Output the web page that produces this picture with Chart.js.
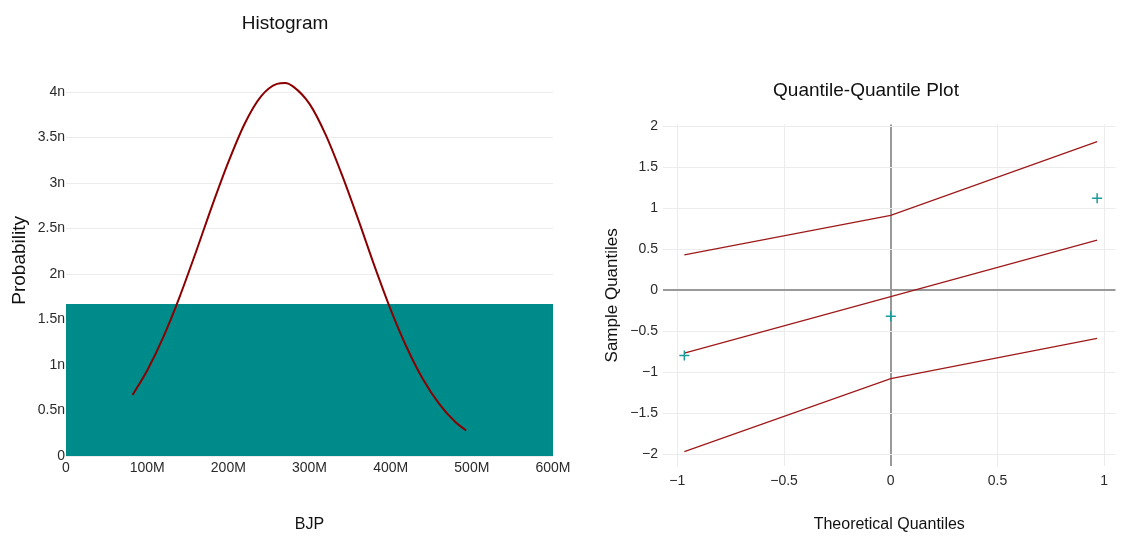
<!DOCTYPE html>
<html>
<head>
<meta charset="utf-8">
<script src="https://cdn.jsdelivr.net/npm/chart.js@4/dist/chart.umd.min.js"></script>
<style>
  body { margin: 0; background: #fff; width: 1122px; height: 536px; overflow: hidden; position: relative; }
  canvas { position: absolute; top: 0; }
  #hist { left: 0; }
  #qq { left: 580px; }
</style>
</head>
<body>
<canvas id="hist" width="590" height="536"></canvas>
<canvas id="qq" width="542" height="536"></canvas>
<script>
// Histogram (x in millions, y in nano)
const binEdges = [0, 600];
const binHeights = [1.67];
const curveX = [82, 100, 120, 140, 160, 180, 200, 220, 240, 260, 270, 280, 300, 320, 340, 360, 380, 400, 420, 440, 460, 480, 493];
const curveY = [0.67, 0.94, 1.31, 1.75, 2.24, 2.75, 3.23, 3.65, 3.95, 4.09, 4.10, 4.06, 3.87, 3.53, 3.09, 2.60, 2.09, 1.61, 1.19, 0.84, 0.57, 0.37, 0.28];
const histXTicks = [0, 100, 200, 300, 400, 500, 600];
const histXLabels = ['0', '100M', '200M', '300M', '400M', '500M', '600M'];
const histYTicks = [0, 0.5, 1, 1.5, 2, 2.5, 3, 3.5, 4];
const histYLabels = ['0', '0.5n', '1n', '1.5n', '2n', '2.5n', '3n', '3.5n', '4n'];

// Q-Q plot
const theoretical = [-0.967, 0, 0.967];
const sampleQ = [-0.80, -0.32, 1.12];
const upperBand = [0.43, 0.91, 1.81];
const fitLine = [-0.77, -0.08, 0.61];
const lowerBand = [-1.97, -1.08, -0.59];
const qqXTicks = [-1, -0.5, 0, 0.5, 1];
const qqXLabels = ['\u22121', '\u22120.5', '0', '0.5', '1'];
const qqYTicks = [-2, -1.5, -1, -0.5, 0, 0.5, 1, 1.5, 2];
const qqYLabels = ['\u22122', '\u22121.5', '\u22121', '\u22120.5', '0', '0.5', '1', '1.5', '2'];

const FONT = "'Liberation Sans', Arial, sans-serif";
const TXT = '#2a2a2a';
const TEAL = '#008b8b';

function fixedTicks(values) {
    return (scale) => { scale.ticks = values.map(v => ({ value: v })); };
}
function pts(xs, ys) {
    return xs.map((x, i) => ({ x: x, y: ys[i] }));
}

// histogram bar as a filled step from the bin edges
const barPts = [];
binHeights.forEach((h, i) => {
    barPts.push({ x: binEdges[i], y: h });
    barPts.push({ x: binEdges[i + 1], y: h });
});

new Chart(document.getElementById('hist'), {
    type: 'scatter',
    data: {
        datasets: [
            {
                data: pts(curveX, curveY),
                showLine: true,
                cubicInterpolationMode: 'monotone',
                borderColor: '#8b0000',
                borderWidth: 2,
                pointRadius: 0,
                order: 1
            },
            {
                data: barPts,
                showLine: true,
                fill: 'origin',
                backgroundColor: TEAL,
                borderWidth: 0,
                pointRadius: 0,
                order: 2
            }
        ]
    },
    options: {
        responsive: false,
        animation: false,
        layout: { padding: { left: 17, right: 37, top: 0, bottom: 0 } },
        plugins: {
            legend: { display: false },
            tooltip: { enabled: false },
            title: {
                display: true,
                text: 'Histogram',
                color: '#111',
                font: { family: FONT, size: 19, weight: 'normal' },
                padding: { top: 12, bottom: 30 }
            }
        },
        scales: {
            x: {
                type: 'linear',
                min: 0,
                max: 600,
                afterBuildTicks: fixedTicks(histXTicks),
                afterFit: (s) => { s.height = 80; },
                grid: { display: false, drawTicks: false },
                border: { display: false },
                ticks: {
                    color: TXT,
                    padding: 4,
                    maxRotation: 0,
                    font: { family: FONT, size: 14 },
                    callback: (v, i) => histXLabels[i]
                },
                title: {
                    display: true,
                    text: 'BJP',
                    color: '#111',
                    font: { family: FONT, size: 16 },
                    padding: { top: 0, bottom: 2 }
                }
            },
            y: {
                min: 0,
                max: 4.3,
                afterBuildTicks: fixedTicks(histYTicks),
                afterFit: (s) => { s.width = 49; },
                grid: { color: '#ececec', drawTicks: false },
                border: { display: false },
                ticks: {
                    color: TXT,
                    padding: 1,
                    font: { family: FONT, size: 14 },
                    callback: (v, i) => histYLabels[i]
                },
                title: {
                    display: true,
                    text: 'Probability',
                    color: '#111',
                    font: { family: FONT, size: 19 },
                    padding: { top: -9, bottom: 0 }
                }
            }
        }
    }
});

const bandStyle = {
    showLine: true,
    borderColor: '#9e1a1a',
    borderWidth: 1.3,
    pointRadius: 0
};

new Chart(document.getElementById('qq'), {
    type: 'scatter',
    data: {
        datasets: [
            {
                data: pts(theoretical, sampleQ),
                pointStyle: 'cross',
                pointRadius: 5,
                borderColor: '#1a9a9a',
                borderWidth: 1.5,
                backgroundColor: '#1a9a9a'
            },
            Object.assign({ data: pts(theoretical, upperBand) }, bandStyle),
            Object.assign({ data: pts(theoretical, fitLine) }, bandStyle),
            Object.assign({ data: pts(theoretical, lowerBand) }, bandStyle)
        ]
    },
    options: {
        responsive: false,
        animation: false,
        layout: { padding: { left: 32, right: 2, top: 0, bottom: 0 } },
        plugins: {
            legend: { display: false },
            tooltip: { enabled: false },
            title: {
                display: true,
                text: 'Quantile-Quantile Plot',
                color: '#111',
                font: { family: FONT, size: 19, weight: 'normal' },
                padding: { top: 79.6, bottom: 22 }
            }
        },
        scales: {
            x: {
                type: 'linear',
                min: -1.067,
                max: 1.053,
                afterBuildTicks: fixedTicks(qqXTicks),
                afterFit: (s) => { s.height = 69.7; },
                grid: {
                    drawTicks: false,
                    color: (c) => c.tick && c.tick.value === 0 ? '#999' : '#ececec',
                    lineWidth: (c) => c.tick && c.tick.value === 0 ? 2 : 1
                },
                border: { display: false },
                ticks: {
                    color: TXT,
                    padding: 6,
                    maxRotation: 0,
                    font: { family: FONT, size: 14 },
                    callback: (v, i) => qqXLabels[i]
                },
                title: {
                    display: true,
                    text: 'Theoretical Quantiles',
                    color: '#111',
                    font: { family: FONT, size: 16 },
                    padding: { top: 0, bottom: 1.4 }
                }
            },
            y: {
                min: -2.15,
                max: 2.02,
                afterBuildTicks: fixedTicks(qqYTicks),
                afterFit: (s) => { s.width = 51; },
                grid: {
                    drawTicks: false,
                    color: (c) => c.tick && c.tick.value === 0 ? '#999' : '#ececec',
                    lineWidth: (c) => c.tick && c.tick.value === 0 ? 2 : 1
                },
                border: { display: false },
                ticks: {
                    color: TXT,
                    padding: 5,
                    font: { family: FONT, size: 14 },
                    callback: (v, i) => qqYLabels[i]
                },
                title: {
                    display: true,
                    text: 'Sample Quantiles',
                    color: '#111',
                    font: { family: FONT, size: 17 },
                    padding: { top: -10.2, bottom: 0 }
                }
            }
        }
    }
});
</script>
</body>
</html>
